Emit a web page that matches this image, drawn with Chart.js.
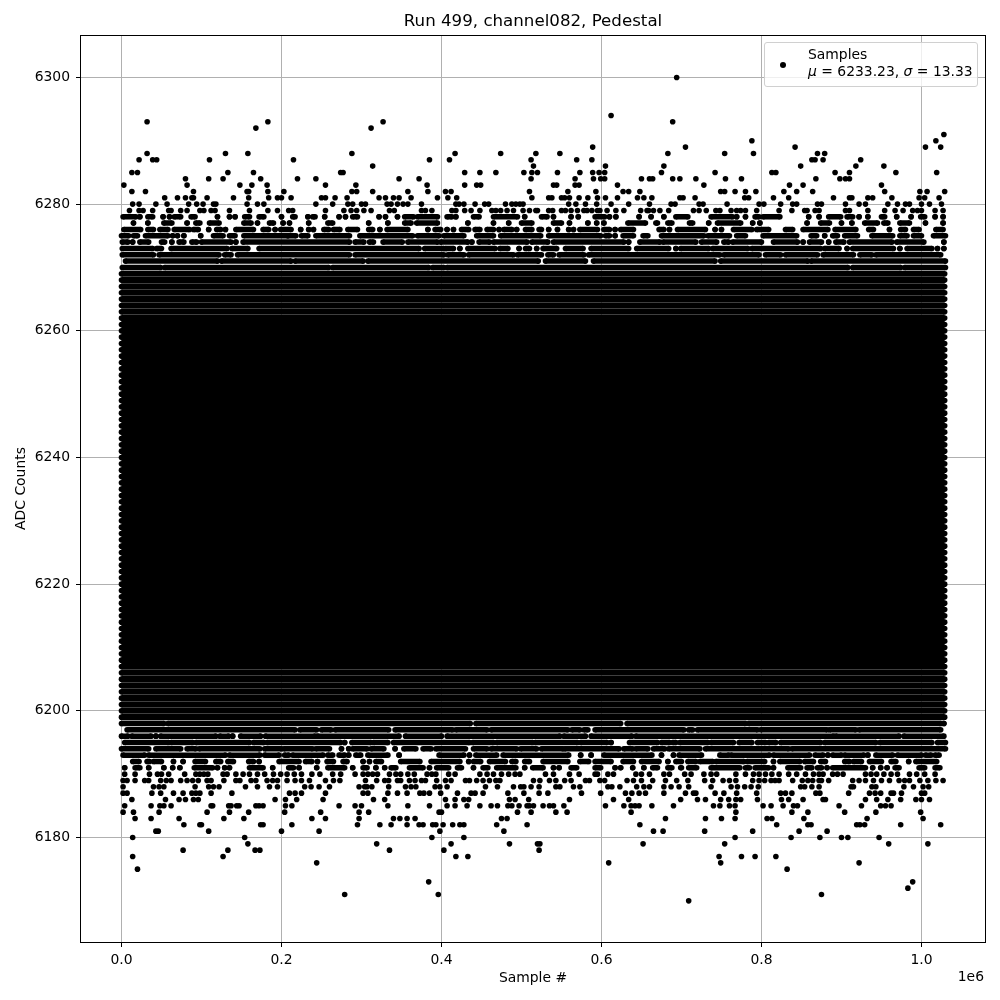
<!DOCTYPE html>
<html>
<head>
<meta charset="utf-8">
<title>Run 499, channel082, Pedestal</title>
<script src="https://cdn.jsdelivr.net/npm/chart.js@4"></script>
<style>
    html, body { margin: 0; padding: 0; background: #fff; }
    #wrap { position: relative; width: 1000px; height: 1000px; }
    #legend {
        position: absolute; left: 764px; top: 42px; width: 214px; height: 45px;
        box-sizing: border-box; background: rgba(255, 255, 255, 0.8);
        border: 1px solid #d0d0d0; border-radius: 3px;
        font: 13.9px/16.5px "DejaVu Sans", sans-serif; color: #000;
    }
    #legend .dot { position: absolute; left: 15px; top: 19px; width: 6px; height: 6px; border-radius: 50%; background: #000; }
    #legend .txt { position: absolute; left: 43px; top: 3px; white-space: nowrap; }
</style>
</head>
<body>
<div id="wrap">
    <canvas id="runChart" width="1000" height="1000"></canvas>
    <div id="legend"><span class="dot"></span><div class="txt">Samples<br><i>μ</i> = 6233.23, <i>σ</i> = 13.33</div></div>
</div>
<script>
// all sample positions below are in thousands
const xTicks = [0, 200000, 400000, 600000, 800000, 1000000];
const yTicks = [6180, 6200, 6220, 6240, 6260, 6280, 6300];

// levels where samples fill the whole run
const solidLevels = [6208,6209,6210,6211,6212,6213,6214,6215,6216,6217,6218,6219,6220,6221,6222,6223,6224,6225,6226,6227,6228,6229,6230,6231,6232,6233,6234,6235,6236,6237,6238,6239,6240,6241,6242,6243,6244,6245,6246,6247,6248,6249,6250,6251,6252,6253,6254,6255,6256,6257,6258,6259,6260,6261];
const stripedLevels = [6199,6200,6201,6202,6203,6204,6205,6206,6207,6262,6263,6264,6265,6266,6267,6268,6269];
const fullRun = [0, 1029];

// [level, start, end, start, end, ...]
const upperRuns = [
    [6278, 2,18, 23,23, 33,39, 52,52, 60,60, 66,74, 87,92, 120,120, 135,135, 142,142, 154,160, 172,178, 200,200, 214,217, 233,233, 239,242, 254,254, 272,272, 280,280, 289,295, 322,322, 330,330, 345,345, 354,365, 370,395, 407,413, 418,418, 440,447, 465,495, 504,504, 525,532, 540,540, 562,562, 571,571, 592,604, 610,610, 618,618, 647,647, 662,662, 678,678, 693,708, 737,764, 769,769, 780,780, 792,797, 802,823, 859,859, 872,872, 884,899, 907,914, 922,922, 933,933, 950,954, 969,969, 987,987, 999,1004, 1017,1017, 1027,1027],
    [6277, 15,15, 33,33, 53,63, 82,82, 93,98, 110,122, 153,162, 170,170, 185,190, 202,202, 210,210, 234,234, 258,264, 309,309, 333,333, 354,362, 369,395, 433,433, 465,465, 484,484, 500,513, 540,550, 560,560, 583,583, 594,594, 603,603, 633,655, 668,670, 683,688, 710,714, 734,734, 745,774, 789,789, 798,798, 857,857, 874,885, 900,900, 913,913, 929,945, 953,958, 973,985, 1005,1005, 1027,1027],
    [6276, 3,24, 33,40, 48,58, 66,85, 90,96, 109,109, 119,124, 130,130, 143,165, 177,184, 192,192, 199,212, 224,224, 234,234, 240,240, 253,259, 265,273, 283,295, 309,314, 323,323, 332,358, 383,383, 392,399, 407,407, 415,415, 425,434, 442,448, 457,465, 472,472, 478,488, 494,494, 505,513, 522,525, 534,534, 545,545, 559,559, 565,565, 573,595, 603,610, 617,617, 624,640, 672,678, 685,685, 695,730, 742,742, 750,750, 765,788, 794,809, 830,839, 852,883, 892,918, 934,940, 960,960, 974,980, 990,997, 1018,1027],
    [6275, 0,9, 15,20, 30,58, 64,64, 70,70, 78,78, 99,99, 115,127, 135,142, 153,208, 208,218, 225,233, 243,285, 298,364, 370,397, 403,428, 444,465, 474,524, 534,599, 605,610, 617,617, 627,640, 652,658, 675,728, 733,760, 769,780, 802,844, 862,869, 879,879, 889,895, 904,920, 938,964, 973,982, 990,1000, 1015,1030],
    [6274, 1,8, 14,14, 23,34, 50,54, 63,63, 72,78, 88,94, 100,137, 143,143, 152,285, 292,303, 310,315, 327,351, 358,395, 399,433, 438,438, 447,460, 465,507, 513,533, 540,628, 634,634, 648,673, 677,718, 725,744, 753,759, 764,800, 815,845, 852,852, 860,875, 884,884, 893,903, 910,963, 969,1003, 1028,1028],
    [6273, 1,39, 44,50, 62,132, 138,158, 172,372, 379,403, 405,415, 423,423, 433,467, 473,483, 497,497, 505,510, 519,519, 527,544, 555,577, 587,634, 644,684, 693,693, 699,734, 739,783, 788,874, 879,897, 907,907, 914,965, 973,973, 982,1013, 1020,1020, 1028,1028],
    [6272, 1,40, 47,122, 129,137, 145,285, 292,403, 408,428, 434,490, 495,525, 533,540, 547,578, 584,748, 753,797, 805,824, 830,870, 877,915, 923,938, 943,1024],
    [6271, 5,120, 125,212, 217,302, 308,521, 530,580, 590,742, 749,858, 862,1030],
    [6270, 1,49, 54,259, 264,384, 389,403, 407,908, 914,974, 979,1030]
];
const lowerRuns = [
    [6198, 0,53, 58,436, 443,624, 632,780, 784,1024, 1028,1028],
    [6197, 7,217, 223,244, 250,262, 267,334, 342,414, 418,457, 462,558, 563,573, 578,583, 592,703, 709,714, 720,795, 799,882, 885,918, 922,1024],
    [6196, 0,8, 13,37, 43,43, 49,118, 123,134, 139,139, 149,174, 180,242, 245,347, 355,400, 407,548, 553,580, 587,638, 643,890, 893,972, 978,1028],
    [6195, 4,59, 62,89, 93,160, 165,178, 182,274, 279,279, 288,312, 315,333, 340,435, 439,465, 469,514, 517,570, 574,607, 612,612, 635,670, 675,685, 689,693, 698,733, 737,765, 772,788, 795,805, 809,818, 824,874, 879,943, 948,1013, 1020,1030],
    [6194, 0,34, 43,74, 82,93, 97,173, 179,200, 203,239, 243,260, 275,275, 284,284, 289,307, 312,328, 342,342, 353,368, 377,387, 393,430, 440,457, 462,494, 499,519, 525,552, 554,622, 628,639, 643,658, 665,679, 684,723, 730,834, 838,1030],
    [6193, 2,29, 34,130, 135,173, 179,197, 204,209, 214,252, 258,264, 272,279, 284,284, 293,299, 308,333, 347,347, 397,428, 435,435, 443,469, 477,559, 574,574, 587,587, 603,663, 675,675, 690,690, 697,725, 748,759, 762,810, 815,860, 867,877, 883,883, 889,900, 904,928, 933,933, 943,964, 970,1000, 1005,1012, 1017,1022],
    [6192, 14,22, 32,35, 40,50, 65,65, 77,77, 92,105, 118,124, 133,140, 159,165, 172,172, 197,222, 230,238, 245,245, 257,265, 277,282, 302,302, 310,310, 318,325, 349,373, 387,423, 434,434, 440,449, 460,480, 488,493, 504,510, 527,558, 573,584, 592,612, 627,640, 650,672, 683,683, 693,700, 708,718, 723,739, 743,778, 782,804, 815,815, 823,848, 854,865, 874,880, 904,910, 915,925, 935,950, 962,968, 984,984, 993,1019],
    [6191, 4,4, 17,23, 34,34, 53,53, 64,64, 73,73, 91,114, 120,120, 129,129, 135,135, 160,177, 189,189, 209,215, 222,222, 244,244, 258,279, 289,289, 302,307, 318,318, 329,329, 337,343, 360,377, 385,385, 394,409, 420,425, 440,440, 452,458, 469,493, 504,504, 514,527, 540,540, 547,547, 562,569, 592,599, 617,617, 624,624, 639,639, 653,653, 664,670, 683,688, 699,700, 709,719, 737,773, 780,785, 792,809, 815,815, 833,849, 857,863, 870,875, 882,882, 889,930, 939,939, 949,949, 957,957, 967,972, 997,1004, 1017,1023]
];

// [level, sample, sample, ...]
const upperPoints = [
    [6300, 694],
    [6294, 612],
    [6293, 32, 183, 327, 689],
    [6292, 168, 312],
    [6291, 1028],
    [6290, 788, 1018],
    [6289, 589, 705, 842, 1005, 1024],
    [6288, 32, 130, 158, 288, 417, 474, 518, 548, 683, 754, 790, 870, 879],
    [6287, 22, 39, 44, 110, 215, 385, 410, 512, 569, 588, 863, 867, 877, 924],
    [6286, 314, 515, 605, 678, 849, 918, 953],
    [6285, 13, 20, 133, 165, 274, 277, 429, 448, 468, 503, 513, 520, 545, 573, 589, 597, 604, 675, 742, 813, 818, 892, 910, 968, 1019],
    [6284, 80, 109, 127, 174, 220, 243, 347, 372, 512, 567, 590, 599, 604, 650, 660, 664, 689, 698, 718, 755, 775, 868, 898, 905, 910],
    [6283, 3, 82, 148, 163, 182, 255, 293, 382, 429, 444, 449, 540, 544, 567, 572, 620, 728, 835, 852, 950],
    [6282, 13, 30, 90, 157, 159, 183, 203, 288, 294, 314, 358, 383, 405, 412, 510, 558, 593, 627, 634, 648, 749, 754, 767, 780, 793, 828, 844, 864, 954, 998, 1007, 1029],
    [6281, 54, 70, 80, 88, 90, 107, 140, 159, 184, 195, 200, 212, 250, 255, 267, 282, 322, 330, 340, 347, 362, 395, 408, 419, 513, 534, 538, 550, 554, 560, 572, 583, 595, 605, 620, 645, 653, 663, 698, 702, 717, 779, 784, 815, 834, 890, 910, 913, 933, 939, 963, 997, 1004, 1022],
    [6280, 14, 22, 43, 57, 84, 94, 102, 115, 118, 157, 170, 178, 243, 264, 283, 289, 300, 305, 332, 337, 345, 352, 358, 375, 418, 422, 428, 442, 454, 459, 480, 488, 493, 498, 502, 559, 568, 580, 594, 612, 634, 660, 687, 692, 722, 727, 757, 797, 803, 824, 839, 844, 870, 875, 905, 922, 930, 958, 970, 980, 985, 1000, 1010, 1025],
    [6279, 10, 22, 27, 39, 59, 62, 74, 82, 98, 103, 112, 117, 135, 160, 183, 195, 209, 214, 255, 278, 287, 294, 303, 312, 335, 341, 375, 380, 388, 413, 418, 429, 437, 448, 463, 468, 474, 482, 490, 502, 510, 518, 520, 534, 539, 550, 555, 562, 570, 578, 582, 588, 595, 598, 607, 618, 628, 649, 657, 659, 665, 673, 684, 715, 722, 731, 743, 748, 762, 769, 774, 780, 794, 822, 838, 854, 857, 867, 872, 905, 910, 933, 954, 967, 977, 989, 995, 1000, 1017, 1027]
];
const lowerPoints = [
    [6190, 4, 17, 35, 45, 50, 59, 79, 93, 98, 103, 108, 127, 132, 143, 152, 160, 170, 179, 190, 199, 207, 216, 225, 238, 248, 264, 274, 292, 302, 308, 314, 320, 335, 343, 349, 358, 366, 382, 388, 393, 409, 417, 448, 457, 465, 475, 484, 492, 498, 530, 540, 560, 572, 592, 595, 608, 615, 643, 650, 660, 678, 685, 704, 712, 728, 737, 744, 768, 780, 790, 797, 805, 813, 822, 834, 844, 855, 865, 872, 877, 889, 895, 902, 930, 937, 944, 953, 962, 970, 985, 994, 1004, 1017],
    [6189, 2, 7, 17, 29, 34, 49, 56, 62, 74, 82, 89, 96, 107, 112, 128, 143, 148, 162, 168, 182, 189, 195, 207, 217, 225, 235, 255, 265, 273, 305, 319, 329, 334, 345, 349, 360, 367, 375, 380, 394, 405, 412, 430, 435, 444, 452, 460, 468, 473, 515, 523, 535, 543, 554, 562, 580, 585, 598, 604, 632, 640, 650, 664, 680, 694, 708, 729, 739, 752, 760, 768, 789, 797, 804, 812, 817, 822, 839, 851, 858, 864, 872, 875, 884, 914, 922, 930, 940, 950, 960, 972, 979, 985, 998, 1008, 1018, 1027],
    [6188, 2, 40, 47, 53, 92, 109, 115, 122, 155, 170, 185, 195, 229, 237, 247, 260, 297, 304, 307, 313, 334, 355, 362, 368, 392, 398, 407, 455, 470, 490, 499, 503, 512, 522, 543, 548, 565, 573, 608, 613, 623, 644, 653, 660, 678, 687, 697, 709, 737, 762, 770, 779, 787, 796, 849, 854, 863, 872, 912, 915, 938, 943, 978, 990, 1002, 1009],
    [6187, 2, 7, 38, 49, 65, 77, 88, 93, 98, 112, 138, 210, 217, 225, 255, 302, 308, 333, 345, 357, 373, 378, 385, 399, 420, 437, 442, 452, 483, 503, 522, 533, 575, 599, 630, 638, 647, 655, 678, 705, 715, 718, 742, 753, 769, 794, 824, 830, 838, 868, 873, 909, 935, 942, 949, 962, 965, 975, 1000, 1004],
    [6186, 13, 55, 72, 80, 90, 96, 192, 205, 219, 252, 315, 329, 405, 417, 428, 434, 485, 492, 509, 560, 615, 634, 699, 720, 730, 749, 759, 768, 774, 795, 825, 834, 852, 877, 880, 930, 944, 958, 974, 993, 1000, 1010],
    [6185, 4, 37, 48, 53, 62, 112, 114, 134, 137, 144, 147, 168, 172, 177, 205, 213, 272, 292, 300, 333, 358, 385, 407, 417, 432, 448, 462, 470, 483, 488, 497, 507, 510, 515, 527, 535, 540, 553, 605, 628, 637, 642, 647, 663, 690, 740, 748, 760, 767, 802, 812, 827, 840, 845, 897, 925, 949, 955, 962],
    [6184, 2, 15, 47, 107, 135, 159, 204, 249, 297, 309, 397, 400, 495, 512, 543, 557, 637, 768, 838, 858, 904, 943, 999],
    [6183, 17, 37, 72, 128, 153, 238, 255, 297, 340, 348, 357, 367, 475, 482, 680, 730, 750, 767, 807, 813, 853, 932, 1002],
    [6182, 78, 98, 100, 174, 177, 213, 295, 323, 337, 357, 372, 377, 389, 393, 402, 414, 423, 428, 469, 507, 648, 819, 858, 862, 919, 923, 929, 974, 1024],
    [6181, 43, 46, 109, 200, 247, 398, 478, 665, 677, 729, 789, 847, 882],
    [6180, 14, 154, 388, 428, 767, 837, 873, 900, 908, 947],
    [6179, 158, 319, 412, 485, 520, 523, 652, 754, 959, 1008],
    [6178, 77, 133, 167, 173, 335, 403, 522],
    [6177, 14, 127, 418, 433, 747, 775, 792, 818],
    [6176, 244, 609, 749, 922],
    [6175, 20, 832],
    [6173, 384, 989],
    [6172, 983],
    [6171, 279, 396, 875],
    [6170, 709]
];

function runsToLine(rows) {
    const out = [];
    rows.forEach(row => {
        for (let i = 1; i < row.length; i += 2) {
            out.push({ x: row[i] * 1000, y: row[0] });
            out.push({ x: row[i + 1] * 1000, y: row[0] });
            out.push({ x: NaN, y: NaN });
        }
    });
    return out;
}

function rowsToPoints(rows) {
    const out = [];
    rows.forEach(row => row.slice(1).forEach(s => out.push({ x: s * 1000, y: row[0] })));
    return out;
}

function lineSet(data, width) {
    return {
        data: data,
        showLine: true,
        spanGaps: false,
        borderColor: '#000',
        borderWidth: width,
        borderCapStyle: 'butt',
        backgroundColor: '#000',
        pointRadius: 2.8,
        pointBorderWidth: 0
    };
}

const solidRows = solidLevels.map(l => [l, fullRun[0], fullRun[1]]);
const stripedRows = stripedLevels.map(l => [l, fullRun[0], fullRun[1]]);

const framePlugin = {
    id: 'frame',
    afterDraw(chart) {
        const a = chart.chartArea;
        const ctx = chart.ctx;
        ctx.save();
        ctx.strokeStyle = '#000';
        ctx.lineWidth = 1;
        ctx.strokeRect(a.left - 0.5, a.top + 0.5, a.right - a.left + 1, a.bottom - a.top);
        ctx.fillStyle = '#000';
        ctx.font = '13.9px "DejaVu Sans"';
        ctx.textAlign = 'right';
        ctx.fillText('1e6', a.right - 1, 981);
        // title sits over the axes, not the canvas
        ctx.font = '16.67px "DejaVu Sans"';
        ctx.textAlign = 'center';
        ctx.textBaseline = 'middle';
        ctx.fillText('Run 499, channel082, Pedestal', (a.left + a.right) / 2, 21.5);
        ctx.restore();
    }
};

new Chart(document.getElementById('runChart').getContext('2d'), {
    type: 'scatter',
    data: {
        datasets: [
            lineSet(runsToLine(solidRows), 8),
            lineSet(runsToLine(stripedRows), 6.1),
            lineSet(runsToLine(upperRuns), 5.5),
            lineSet(runsToLine(lowerRuns), 5.5),
            {
                data: rowsToPoints(upperPoints.concat(lowerPoints)),
                backgroundColor: '#000',
                pointRadius: 2.8,
                pointBorderWidth: 0
            }
        ]
    },
    options: {
        responsive: false,
        animation: false,
        layout: { padding: { right: 15, left: 0, bottom: 0, top: 35 } },
        plugins: {
            legend: { display: false },
            tooltip: { enabled: false }
        },
        scales: {
            x: {
                type: 'linear',
                min: -50600,
                max: 1079400,
                afterFit(scale) { scale.height = 58; },
                afterBuildTicks(scale) { scale.ticks = xTicks.map(v => ({ value: v })); },
                grid: { color: '#b0b0b0', tickColor: '#000', tickLength: 5 },
                border: { display: false },
                ticks: {
                    color: '#000',
                    maxRotation: 0,
                    padding: 5,
                    font: { family: 'DejaVu Sans', size: 13.9 },
                    callback: v => (v / 1e6).toFixed(1)
                },
                title: {
                    display: true,
                    text: 'Sample #',
                    color: '#000',
                    font: { family: 'DejaVu Sans', size: 13.9 },
                    padding: { top: 4, bottom: 13 }
                }
            },
            y: {
                type: 'linear',
                min: 6163.5,
                max: 6306.7,
                afterFit(scale) { scale.width = 81; },
                afterBuildTicks(scale) { scale.ticks = yTicks.map(v => ({ value: v })); },
                grid: { color: '#b0b0b0', tickColor: '#000', tickLength: 5 },
                border: { display: false },
                ticks: {
                    color: '#000',
                    padding: 6,
                    font: { family: 'DejaVu Sans', size: 13.9 },
                    callback: v => String(v)
                },
                title: {
                    display: true,
                    text: 'ADC Counts',
                    color: '#000',
                    font: { family: 'DejaVu Sans', size: 13.9 },
                    padding: { top: 13, bottom: 0 }
                }
            }
        }
    },
    plugins: [framePlugin]
});
</script>
</body>
</html>
